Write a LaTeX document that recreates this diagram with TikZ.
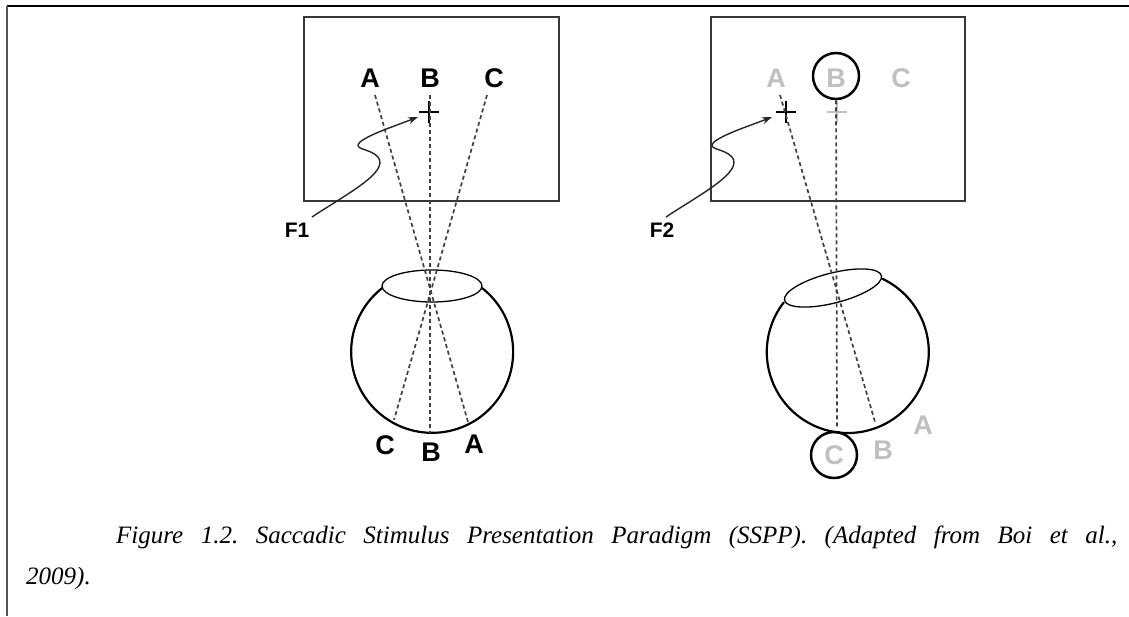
\documentclass[tikz,border=0pt]{standalone}
\usepackage{fontspec}
\setmainfont{Liberation Serif}
\newfontfamily\labelfont{Liberation Sans}
\usetikzlibrary{arrows.meta}
\definecolor{framegray}{RGB}{85,85,85}
\definecolor{faded}{RGB}{192,192,192}
\definecolor{boxline}{RGB}{55,55,55}
\frenchspacing

\begin{document}
\begin{tikzpicture}[x=1pt,y=-1pt,
  letter/.style={font=\labelfont\bfseries\fontsize{27}{27}\selectfont, inner sep=0pt},
  fletter/.style={font=\labelfont\bfseries\fontsize{21}{21}\selectfont, inner sep=0pt},
  screen/.style={draw=boxline, line width=1.6pt},
  ray/.style={dash pattern=on 4pt off 3pt, line width=1.7pt, draw=black!75},
  globe/.style={line width=2.2pt},
  lens/.style={line width=1.3pt},
  ring/.style={circle, draw, line width=2.5pt, minimum size=46pt, inner sep=0pt},
  cross/.style={line width=2.4pt},
  gaze/.style={line width=1.4pt, draw=black!85, -{Stealth[length=10pt,width=7pt]}},
  caption/.style={font=\itshape\fontsize{25}{25}\selectfont, inner sep=0pt},
]
\useasboundingbox (0,0) rectangle (1129,616);

% page frame
\draw[line width=2pt] (7,6) -- (1129,6);
\draw[line width=2.5pt, draw=framegray] (7,6) -- (7,616);

% ---------- left panel: fixation at B ----------
\draw[screen] (304,17) rectangle (559,201);
\node[letter] (lA) at (370,78) {A};
\node[letter] (lB) at (430,78) {B};
\node[letter] (lC) at (494,78) {C};
\coordinate (lfix) at (429,112);
\draw[cross] ([xshift=-10pt]lfix) -- ([xshift=10pt]lfix);
\draw[cross] ([yshift=-11pt]lfix) -- ([yshift=11pt]lfix);

% eye
\draw[lens] (432,286) ellipse [x radius=50, y radius=16];
\draw[globe] (482,288) arc [start angle=-52, end angle=232, radius=81];

% retinal projections
\coordinate (lrA) at (468,422);
\coordinate (lrB) at (430,433);
\coordinate (lrC) at (394,420);
\draw[ray] (375,95) -- (lrA);
\draw[ray] (430,95) -- (lrB);
\draw[ray] (487,95) -- (lrC);
\node[letter] (lbC) at (385,445) {C};
\node[letter] (lbB) at (431,452) {B};
\node[letter] (lbA) at (474,444) {A};

% first fixation
\node[fletter] (F1) at (297,230) {F1};
\draw[gaze] (312,217) .. controls (345,195) and (390,172) .. (378,157)
  .. controls (370,148) and (352,150) .. (360,142)
  .. controls (370,134) and (395,126) .. (418,117);

% ---------- right panel: saccade to A ----------
\draw[screen] (711,17) rectangle (965,201);
\node[letter, text=faded] (rA) at (776,78) {A};
\node[letter, text=faded] (rB) at (836,78) {B};
\node[letter, text=faded] (rC) at (901,78) {C};
\node[ring] (rBring) at (836,76) {};
\coordinate (oldfix) at (837,112);
\draw[cross, draw=faded] ([xshift=-10pt]oldfix) -- ([xshift=10pt]oldfix);
\draw[cross, draw=faded] ([yshift=-11pt]oldfix) -- ([yshift=11pt]oldfix);
\coordinate (rfix) at (786,112);
\draw[cross] ([xshift=-10pt]rfix) -- ([xshift=10pt]rfix);
\draw[cross] ([yshift=-11pt]rfix) -- ([yshift=11pt]rfix);

% rotated eye
\draw[lens] (833,288) ellipse [x radius=50, y radius=15, rotate=14.3];
\draw[globe] (882,278.6) arc [start angle=-65, end angle=218, radius=81];

% retinal projections
\coordinate (rrA) at (875,422);
\coordinate (rrB) at (837,427);
\draw[ray] (780,95) -- (rrA);
\draw[ray] (rBring.south) -- (rrB);
\node[ring] (rCring) at (834,455) {};
\node[letter, text=faded] (rbC) at (rCring) {C};
\node[letter, text=faded] (rbB) at (883,450) {B};
\node[letter, text=faded] (rbA) at (923,425) {A};

% second fixation
\node[fletter] (F2) at (662,230) {F2};
\draw[gaze] (666,217) .. controls (699,195) and (744,172) .. (732,157)
  .. controls (724,148) and (706,150) .. (714,142)
  .. controls (724,134) and (749,126) .. (772,117);

% ---------- caption ----------
\node[caption, anchor=base west] (cap1) at (116,543)
  {\makebox[1001pt][s]{Figure 1.2. Saccadic Stimulus Presentation Paradigm (SSPP). (Adapted from Boi et al.,}};
\node[caption, anchor=base west] (cap2) at (26,584) {2009).};
\end{tikzpicture}
\end{document}
